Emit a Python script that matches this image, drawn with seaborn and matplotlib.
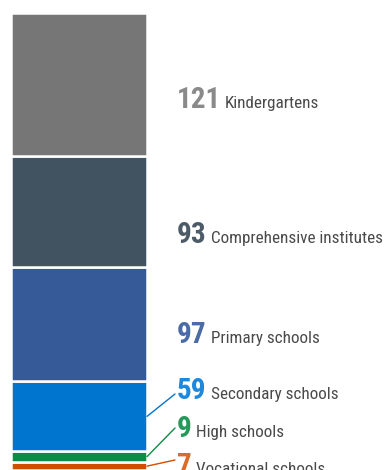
import matplotlib
matplotlib.use("Agg")
import matplotlib.pyplot as plt
import seaborn as sns
from matplotlib import font_manager as fm

# data, bottom to top
categories = ["Vocational schools", "High schools", "Secondary schools",
              "Primary schools", "Comprehensive institutes", "Kindergartens"]
counts = [7, 9, 59, 97, 93, 121]
bar_colors = ["#d04e00", "#108a47", "#0075d0", "#355a97", "#415260", "#767676"]
num_colors = ["#dd6a26", "#26985a", "#1e88dc", "#4a6ba5", "#4d5b68", "#8a8a8a"]

# pick a narrow font if one is installed
names = {f.name for f in fm.fontManager.ttflist}
narrow = next((n for n in ["Roboto Condensed", "Liberation Sans Narrow",
                           "DejaVu Sans Condensed", "Noto Sans Condensed",
                           "Open Sans Condensed"] if n in names), "DejaVu Sans")

sns.set_style("white")
plt.rcParams["font.family"] = [narrow, "DejaVu Sans"]

W, H = 389, 470
fig = plt.figure(figsize=(W / 100, H / 100), dpi=100)
ax = fig.add_axes([0, 0, 1, 1])

bottom = 0
for c, v, col in zip(categories, counts, bar_colors):
    sns.barplot(x=["all"], y=[v], bottom=bottom, color=col, width=0.8,
                saturation=1, edgecolor="white", linewidth=1.8, ax=ax)
    bottom += v
total = bottom

# pixel mapping: bar top at 13 px, orange top at 462 px
k = (462 - 13) / (total - counts[0])
ax.set_ylim(counts[0] - (H - 462) / k, total + 13 / k)
px_x = 136 / 0.8
ax.set_xlim(-0.4 - 11 / px_x, -0.4 - 11 / px_x + W / px_x)
ax.axis("off")

# label baselines (px from top) and leader line targets
baselines = [474, 437, 399, 343, 243, 108]
leaders = [(175, 460), (175, 428), (175, 394), None, None, None]

def fx(x):
    return x / W

def fy(y):
    return 1 - y / H

cum = 0
nums = []
for c, v, col, bcol, b, ld in zip(categories, counts, num_colors, bar_colors,
                                  baselines, leaders):
    mid = cum + v / 2
    cum += v
    t = fig.text(fx(177), fy(b), str(v), color=col, fontsize=21,
                 fontweight="bold", va="baseline", ha="left")
    nums.append(t)
    if ld is not None:
        ax.annotate("", xy=(0.4, mid), xycoords="data",
                    xytext=(ld[0], H - ld[1]), textcoords="figure pixels",
                    arrowprops=dict(arrowstyle="-", color=bcol,
                                    lw=1.0, shrinkA=0, shrinkB=0))

fig.canvas.draw()
r = fig.canvas.get_renderer()
for c, t, b in zip(categories, nums, baselines):
    x1 = t.get_window_extent(r).x1
    fig.text(fx(x1 + 4), fy(b), c, color="#4a4a4a", fontsize=12.3,
             va="baseline", ha="left")

fig.savefig("out.png", dpi=100)
